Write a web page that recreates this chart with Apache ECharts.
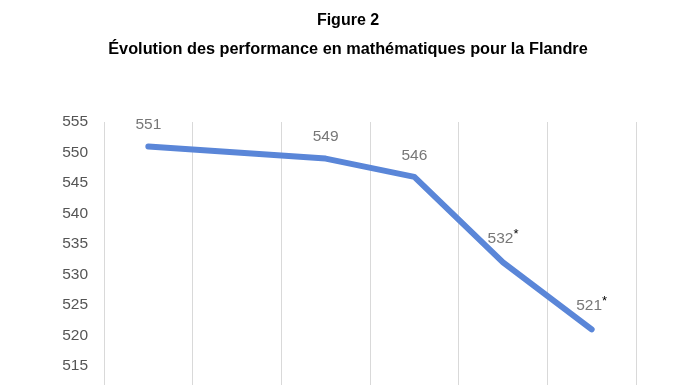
<!DOCTYPE html>
<html><head><meta charset="utf-8">
<script src="https://cdn.jsdelivr.net/npm/echarts@6/dist/echarts.min.js"></script>
<style>html,body{margin:0;padding:0;background:#fff;overflow:hidden}#c{width:696px;height:410px}</style>
</head><body><div id="c"></div>
<script>
const categories = ['2003', '2007', '2011', '2015', '2019', '2023'];
const scores = [551, null, 549, 546, 532, 521];
const significant = [false, false, false, false, true, true];
const yTicks = [510, 515, 520, 525, 530, 535, 540, 545, 550, 555];

const chart = echarts.init(document.getElementById('c'));
const FONT = '"Liberation Sans", Arial, sans-serif';
chart.setOption({
  animation: false,
  title: [
    {text: 'Figure 2', left: 'center', top: 8, textStyle: {fontFamily: FONT, fontSize: 16, fontWeight: 'bold', color: '#000'}},
    {text: 'Évolution des performance en mathématiques pour la Flandre', left: 'center', top: 37, textStyle: {fontFamily: FONT, fontSize: 16.3, fontWeight: 'bold', color: '#000'}}
  ],
  grid: {left: 104, right: 60, top: 122, bottom: 13.5, containLabel: false},
  xAxis: {
    type: 'category', data: categories, boundaryGap: true,
    axisLine: {show: false}, axisTick: {show: false}, axisLabel: {show: false},
    splitLine: {show: true, lineStyle: {color: '#d9d9d9', width: 1}}
  },
  yAxis: {
    type: 'value', min: yTicks[0], max: yTicks[yTicks.length - 1], interval: 5,
    axisLine: {show: false}, axisTick: {show: false}, splitLine: {show: false},
    axisLabel: {fontFamily: FONT, fontSize: 15.5, color: '#555', margin: 16}
  },
  series: [{
    type: 'line', data: scores, connectNulls: true, showSymbol: true, symbol: 'circle', symbolSize: 1,
    itemStyle: {color: 'rgba(0,0,0,0)'},
    lineStyle: {color: '#5a86d8', width: 6, cap: 'round', join: 'round'},
    label: {
      show: true, position: 'top', distance: 13,
      formatter: p => significant[p.dataIndex] ? '{v|' + p.value + '}{s|*}' : '{v|' + p.value + '}',
      rich: {
        v: {fontFamily: FONT, fontSize: 15.5, color: '#777'},
        s: {fontFamily: FONT, fontSize: 13, color: '#000', verticalAlign: 'top', padding: [0, 0, 8, 0]}
      }
    }
  }]
});
</script></body></html>
